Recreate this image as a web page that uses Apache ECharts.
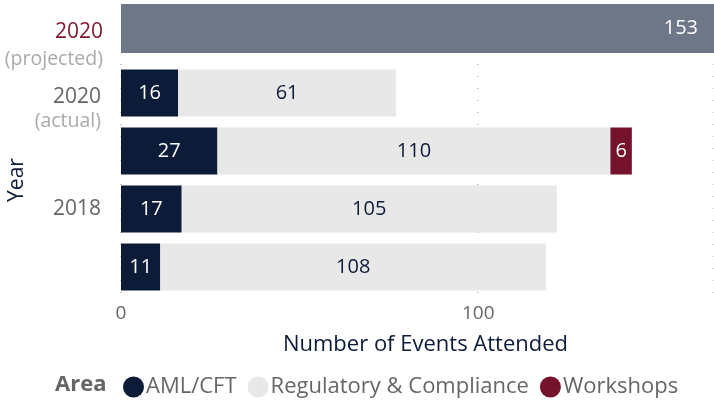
<!DOCTYPE html>
<html><head><meta charset="utf-8">
<script src="https://cdn.jsdelivr.net/npm/echarts@6/dist/echarts.min.js"></script>
<style>html,body{margin:0;padding:0;background:#fff}#c{width:714px;height:411px}</style>
</head><body><div id="c"></div>
<script>
const projectedCategory = ['2020 (projected)'];
const projectedValues = [153];
const categories = ['2020 (actual)', '2019', '2018', '2017'];
const amlValues = [16, 27, 17, 11];
const regValues = [61, 110, 105, 108];
const workshopValues = [null, 6, null, null];
const seriesNames = ['AML/CFT', 'Regulatory & Compliance', 'Workshops'];
const xTickStep = 100;

const FONT = 'Open Sans';
const NAVY = '#0c1b37', LIGHT = '#e8e8e8', MAROON = '#74132b', PROJ = '#6e7787';

const chart = echarts.init(document.getElementById('c'));
const labelRich = {
  e1: {fontSize: 19, lineHeight: 35, fontFamily: FONT},
  e2: {fontSize: 19, lineHeight: 30, fontFamily: FONT},
  p: {color: '#7a1a30', fontSize: 21, lineHeight: 26, fontFamily: FONT},
  y: {color: '#666', fontSize: 21, lineHeight: 26, fontFamily: FONT},
  s1: {color: '#aaa', fontSize: 19.5, lineHeight: 27, fontFamily: FONT},
  s2: {color: '#aaa', fontSize: 19.5, lineHeight: 21, fontFamily: FONT}
};
chart.setOption({
  animation: false,
  textStyle: {fontFamily: FONT},
  title: {text: 'Area', left: 50, top: 369, padding: 5, textStyle: {fontFamily: FONT, fontSize: 22, fontWeight: 'bold', color: '#666'}},
  legend: {
    data: seriesNames, left: 123, top: 376, padding: 0, icon: 'circle', itemWidth: 21, itemHeight: 21, itemGap: 11,
    textStyle: {fontFamily: FONT, fontSize: 22, color: '#666', padding: [0, 0, 0, -3]}
  },
  grid: [
    {left: 121, right: 0, top: 4, height: 49, outerBoundsMode: 'none'},
    {left: 121, right: 0, top: 64, height: 232, outerBoundsMode: 'none'}
  ],
  xAxis: [
    {gridIndex: 0, type: 'value', min: 0, max: projectedValues[0], show: false},
    {gridIndex: 1, type: 'value', min: 0, max: 166, interval: xTickStep,
     name: 'Number of Events Attended', nameLocation: 'middle', nameGap: 38, nameMoveOverlap: false,
     nameTextStyle: {color: NAVY, fontSize: 22, fontFamily: FONT, padding: [0, 0, 0, 16]},
     axisLine: {show: false}, axisTick: {show: false},
     axisLabel: {color: '#666', fontSize: 19, margin: 8, showMaxLabel: false, fontFamily: FONT},
     splitLine: {show: true, lineStyle: {color: '#c8c8c8', width: 2, type: [1, 11]}}}
  ],
  yAxis: [
    {gridIndex: 0, type: 'category', data: projectedCategory,
     axisLine: {show: false}, axisTick: {show: false},
     axisLabel: {margin: 18, formatter: () => '{e1| }\n{p|2020}\n{s1|(projected)}', rich: labelRich}},
    {gridIndex: 1, type: 'category', data: categories, inverse: true,
     name: 'Year', nameLocation: 'middle', nameRotate: 90, nameGap: 93, nameMoveOverlap: false,
     nameTextStyle: {color: NAVY, fontSize: 21, fontFamily: FONT},
     axisLine: {show: false}, axisTick: {show: false},
     axisLabel: {margin: 20, interval: 1, formatter: (v) => {
       if (v === '2020 (actual)') return '{e2| }\n{y|2020}\n{s2|(actual)}';
       return '{y|' + v + '}';
     }, rich: labelRich}}
  ],
  series: [
    {name: 'Projected', type: 'bar', xAxisIndex: 0, yAxisIndex: 0, data: projectedValues, barWidth: 49,
     itemStyle: {color: PROJ},
     label: {show: true, position: 'insideRight', distance: 16, color: '#fff', fontSize: 20, fontFamily: FONT}},
    {name: seriesNames[0], type: 'bar', stack: 'a', xAxisIndex: 1, yAxisIndex: 1, data: amlValues, barWidth: 47,
     itemStyle: {color: NAVY},
     label: {show: true, position: 'inside', color: '#fff', fontSize: 20, fontFamily: FONT}},
    {name: seriesNames[1], type: 'bar', stack: 'a', xAxisIndex: 1, yAxisIndex: 1, data: regValues, barWidth: 47,
     itemStyle: {color: LIGHT},
     label: {show: true, position: 'inside', color: NAVY, fontSize: 20, fontFamily: FONT}},
    {name: seriesNames[2], type: 'bar', stack: 'a', xAxisIndex: 1, yAxisIndex: 1, data: workshopValues, barWidth: 47,
     itemStyle: {color: MAROON},
     label: {show: true, position: 'inside', color: '#fff', fontSize: 20, fontFamily: FONT}}
  ]
});
</script></body></html>
